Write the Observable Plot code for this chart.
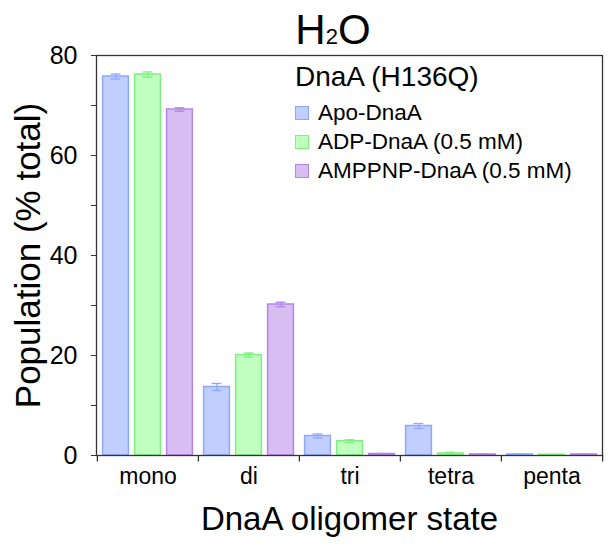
<!DOCTYPE html>
<html>
<head>
<meta charset="utf-8">
<script src="https://cdn.jsdelivr.net/npm/d3@7"></script>
<script src="https://cdn.jsdelivr.net/npm/@observablehq/plot@0.6"></script>
<style>
  html, body { margin: 0; padding: 0; background: #fff; }
  #wrap { position: relative; width: 615px; height: 550px; font-family: "Liberation Sans", Arial, sans-serif; color: #000; }
  #title { position: absolute; left: 0; width: 666px; top: 6px; text-align: center; font-size: 42px; line-height: 48px; }
  #title sub { font-size: 22px; vertical-align: baseline; position: relative; top: 0; }
  #legend { position: absolute; left: 295px; top: 60px; }
  #legend .lt { font-size: 28px; line-height: 34px; margin-bottom: 4px; }
  #legend .row { display: flex; align-items: center; height: 29px; font-size: 22.5px; }
  #legend .sw { width: 12px; height: 12px; border: 1.5px solid; margin-right: 9px; }
  svg { position: absolute; left: 0; top: 0; }
</style>
</head>
<body>
<div id="wrap">
  <div id="title">H<sub>2</sub>O</div>
  <div id="legend"></div>
</div>
<script>
const categories = ["mono", "di", "tri", "tetra", "penta"];
const seriesNames = ["Apo-DnaA", "ADP-DnaA (0.5 mM)", "AMPPNP-DnaA (0.5 mM)"];
const legendTitle = "DnaA (H136Q)";
const apoMean = [75.8, 13.7, 3.9, 5.9, 0.2];
const apoErr  = [0.5, 0.7, 0.4, 0.5, 0.05];
const adpMean = [76.2, 20.1, 2.85, 0.4, 0.15];
const adpErr  = [0.5, 0.4, 0.3, 0.25, 0.05];
const ampMean = [69.2, 30.2, 0.3, 0.2, 0.2];
const ampErr  = [0.35, 0.45, 0.1, 0.1, 0.05];
const yTicks = [0, 10, 20, 30, 40, 50, 60, 70, 80];

const fills   = ["#c0cfff", "#bfffbf", "#d8bdf2"];
const strokes = ["#8ea8ff", "#7fef7f", "#b585e8"];
const offsets = [-32, 0, 32];

const seriesData = [apoMean, adpMean, ampMean].map((means, s) => {
  const errs = [apoErr, adpErr, ampErr][s];
  return categories.map((c, i) => ({cat: c, series: seriesNames[s], v: means[i], e: errs[i]}));
});

const band = (615 - 96 - 13) / categories.length;
const barW = 26, capW = 10;

const marks = [];
seriesData.forEach((data, s) => {
  marks.push(Plot.barY(data, {
    x: "cat", y: "v", fill: fills[s], stroke: strokes[s], strokeWidth: 1.5,
    insetLeft: (band - barW) / 2, insetRight: (band - barW) / 2, dx: offsets[s]
  }));
});
seriesData.forEach((data, s) => {
  marks.push(Plot.ruleX(data, {x: "cat", y1: d => d.v - d.e, y2: d => d.v + d.e, stroke: strokes[s], strokeWidth: 1.3, dx: offsets[s]}));
  marks.push(Plot.tickY(data, {x: "cat", y: d => d.v + d.e, stroke: strokes[s], strokeWidth: 1.3, dx: offsets[s], insetLeft: (band - capW) / 2, insetRight: (band - capW) / 2}));
  marks.push(Plot.tickY(data, {x: "cat", y: d => d.v - d.e, stroke: strokes[s], strokeWidth: 1.3, dx: offsets[s], insetLeft: (band - capW) / 2, insetRight: (band - capW) / 2}));
});

const chart = Plot.plot({
  width: 615,
  height: 550,
  marginLeft: 96,
  marginRight: 13,
  marginTop: 55,
  marginBottom: 95,
  style: {fontFamily: "\"Liberation Sans\", Arial, sans-serif", color: "#000", background: "transparent"},
  x: {domain: categories, padding: 0, axis: null},
  y: {domain: [0, 80], axis: null},
  marks: [
    ...marks,
    Plot.frame({stroke: "#333", strokeWidth: 1.3}),
    Plot.axisY({ticks: yTicks, tickSize: 5, tickPadding: 14, fontSize: 25, label: null, stroke: "#333",
      tickFormat: d => d % 20 === 0 ? String(d) : ""}),
    Plot.axisX({tickSize: 0, tickPadding: 12, fontSize: 23, label: null}),
    Plot.ruleX(categories, {x: d => d, y1: 0, y2: -1.3, dx: -band / 2, stroke: "#333", strokeWidth: 1.3}),
    Plot.ruleX(categories.slice(-1), {x: d => d, y1: 0, y2: -1.3, dx: band / 2, stroke: "#333", strokeWidth: 1.3}),
    Plot.text(["Population (% total)"], {frameAnchor: "left", textAnchor: "middle", dx: -68, rotate: -90, fontSize: 35, fill: "#000"}),
    Plot.text(["DnaA oligomer state"], {frameAnchor: "bottom", dy: 74, fontSize: 33, fill: "#000"})
  ]
});
document.getElementById("wrap").prepend(chart);

const leg = document.getElementById("legend");
const lt = document.createElement("div");
lt.className = "lt"; lt.textContent = legendTitle; leg.appendChild(lt);
seriesNames.forEach((n, i) => {
  const r = document.createElement("div"); r.className = "row";
  const sw = document.createElement("div"); sw.className = "sw";
  sw.style.background = fills[i]; sw.style.borderColor = strokes[i];
  const t = document.createElement("span"); t.textContent = n;
  r.appendChild(sw); r.appendChild(t); leg.appendChild(r);
});
</script>
</body>
</html>
